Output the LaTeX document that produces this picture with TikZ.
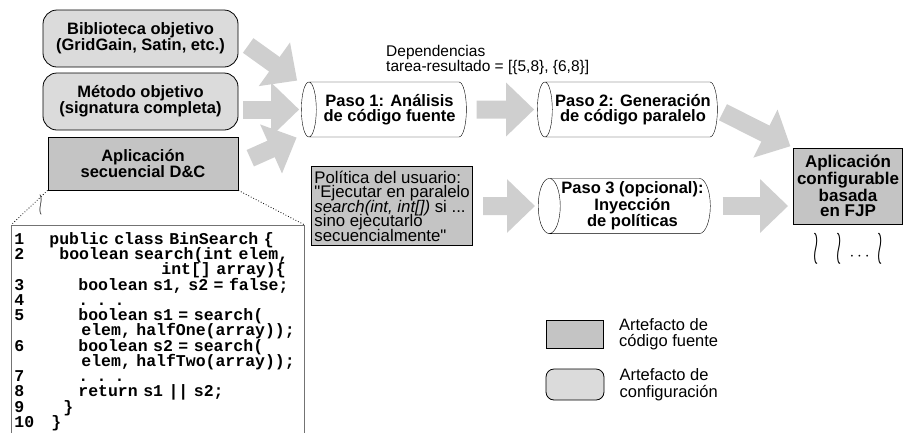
\documentclass[tikz,border=0pt]{standalone}
\usepackage{fontspec}
\setmainfont{Liberation Sans}[Ligatures=TeXOff]
\setmonofont{Liberation Mono}
\usetikzlibrary{shapes.geometric}
\usetikzlibrary{positioning}
\usetikzlibrary{arrows.meta}

\newcommand{\codeln}[3]{\makebox[35pt][l]{#1}\hspace*{#2}#3}
\newcommand{\tightlines}{\lineskiplimit -20pt\relax}

\tikzset{
  cfgbox/.style={draw, rounded corners=14pt, fill=black!14, line width=0.8pt, align=center,
    font=\fontsize{16.5}{16}\selectfont\bfseries, minimum width=195pt, minimum height=57pt},
  srcbox/.style={draw, rectangle, fill=black!23, line width=0.8pt},
  paso/.style={draw, cylinder, shape border rotate=180, aspect=0.4, fill=white, align=center,
    font=\fontsize{16.5}{15}\selectfont\bfseries, minimum width=55pt, inner xsep=1pt},
  bigarrow/.style={draw=black!19, line width=18pt, -{Triangle[length=28pt, width=52pt]}},
  codebox/.style={draw=black!55, fill=white, align=left, line width=0.8pt,
    font=\fontsize{16.5}{15.25}\selectfont\ttfamily\bfseries\tightlines,
    inner xsep=2pt, inner ysep=7pt, text width=287pt, minimum width=293pt},
  legtext/.style={align=left, inner sep=0pt, font=\fontsize{16.5}{16.5}\selectfont},
}

\begin{document}
\begin{tikzpicture}[x=1pt, y=-1pt]
  \useasboundingbox (0,0) rectangle (913,432);
  \clip (0,0) rectangle (913,432);

  % inputs
  \node[cfgbox] (lib) at (140.5,38.5) {Biblioteca objetivo\\(GridGain, Satin, etc.)};
  \node[cfgbox] (met) at (140.5,101.5) {Método objetivo\\(signatura completa)};
  \node[srcbox, minimum width=190pt, minimum height=53pt, align=center,
    font=\fontsize{16.5}{16}\selectfont\bfseries] (app) at (143,163.5) {Aplicación\\secuencial D\&C};

  % source code
  \node[codebox, anchor=north west] (code) at (11,225) {%
    \codeln{1}{0pt}{public class BinSearch \{}\\
    \codeln{2}{10pt}{boolean search(int elem,}\\
    \codeln{}{112pt}{int[] array)\{}\\
    \codeln{3}{29pt}{boolean s1, s2 = false;}\\
    \codeln{4}{29pt}{. . .}\\
    \codeln{5}{29pt}{boolean s1 = search(}\\
    \codeln{}{32pt}{elem, halfOne(array));}\\
    \codeln{6}{29pt}{boolean s2 = search(}\\
    \codeln{}{32pt}{elem, halfTwo(array));}\\
    \codeln{7}{29pt}{. . .}\\
    \codeln{8}{29pt}{return s1 || s2;}\\
    \codeln{9}{14pt}{\}}\\
    \codeln{10}{2pt}{\}}};
  \draw[dotted, thick] (app.south west) -- (code.north west);
  \draw[dotted, thick] (app.south east) -- (code.north east);
  \node (cut) at (41,205) {\scalebox{1.1}[3]{$\wr$}};

  % steps
  \node[paso, minimum height=165pt] (paso1) at (389.5,109.5) {Paso 1: Análisis\\de código fuente};
  \node[paso, minimum height=180pt] (paso2) at (633,109.5) {Paso 2: Generación\\de código paralelo};
  \node[paso, minimum height=165pt, font=\fontsize{16.5}{14}\selectfont\bfseries] (paso3) at (632.5,206)
    {Paso 3 (opcional):\\Inyección\\de políticas};
  \node[anchor=north west, align=left, inner sep=0pt, font=\fontsize{15.5}{14}\selectfont] (dep)
    at (386,45) {Dependencias\\tarea-resultado = [\{5,8\}, \{6,8\}]};
  \node[srcbox, anchor=west, align=left, inner xsep=3pt, inner ysep=4pt,
    font=\fontsize{16.8}{14.5}\selectfont\tightlines] (pol)
    at (311,206) {Política del usuario:\\"Ejecutar en paralelo\\\textit{search(int, int[])} si ...\\sino ejecutarlo\\secuencialmente"};

  % result
  \node[srcbox, align=center, minimum width=109pt, minimum height=76pt, inner sep=1pt,
    font=\fontsize{17}{15.5}\selectfont\bfseries] (fjp) at (848,186) {Aplicación\\configurable\\basada\\en FJP};
  \node[font=\fontsize{16}{16}\selectfont] (more) at (848,249)
    {\scalebox{1.1}[2.7]{$\wr$}\hspace{18pt}\scalebox{1.1}[2.7]{$\wr$}\hspace{8pt}$\cdots$\hspace{8pt}\scalebox{1.1}[2.7]{$\wr$}};

  \draw[bigarrow, shorten <=12pt, shorten >=5pt] (lib.east) -- ([yshift=26pt]paso1.west);
  \draw[bigarrow, shorten <=5pt, shorten >=2pt] (met.east |- paso1.west) -- (paso1.west);
  \draw[bigarrow, shorten <=13pt, shorten >=5pt] (app.east) -- ([yshift=-26pt]paso1.west);
  \draw[bigarrow, shorten <=10pt, shorten >=3pt] (paso1.east) -- (paso2.west);
  \draw[bigarrow, shorten <=6pt, shorten >=3pt] (paso2.east) -- (fjp.north west);
  \draw[bigarrow, shorten <=10pt, shorten >=3pt] (pol.east) -- (paso3.west);
  \draw[bigarrow, shorten <=12pt, shorten >=5pt] (paso3.east) -- (paso3.east -| fjp.west);

  % legend
  \node[srcbox, minimum width=57pt, minimum height=28pt] (legsrc) at (575,334) {};
  \node[cfgbox, minimum width=58pt, minimum height=31pt, rounded corners=8pt] (legcfg) at (575,384.5) {};
  \node[legtext, right=15pt of legsrc] (legsrctxt) {Artefacto de\\código fuente};
  \node[legtext, right=15pt of legcfg] (legcfgtxt) {Artefacto de\\configuración};
\end{tikzpicture}
\end{document}
